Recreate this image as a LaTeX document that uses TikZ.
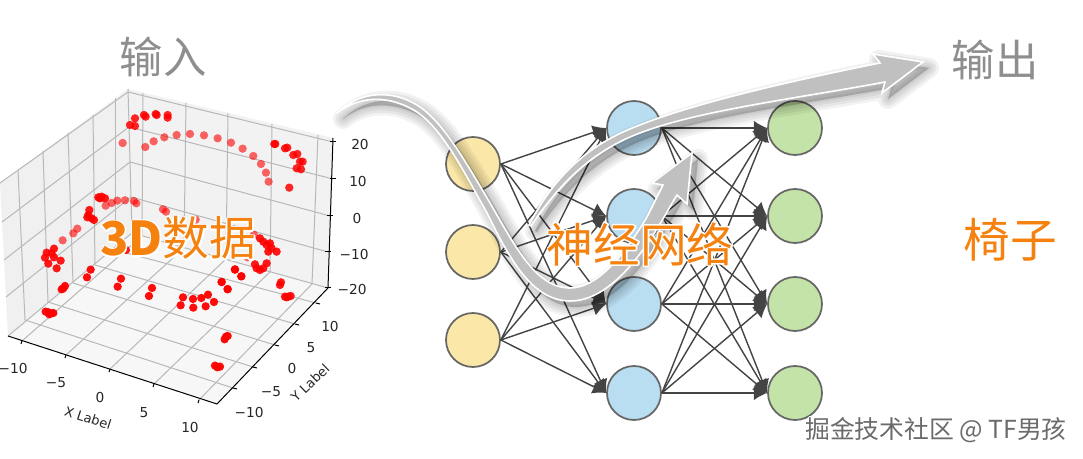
\documentclass[tikz,border=0pt]{standalone}
\usepackage{fontspec}
\setmainfont{DejaVu Sans}
\newfontfamily\cjk{Noto Sans CJK SC}
\usetikzlibrary{arrows.meta}
\definecolor{orangetxt}{HTML}{F5820F}
\definecolor{graytxt}{HTML}{8E8E8E}
\definecolor{gridc}{HTML}{B8B8B8}
\definecolor{yel}{HTML}{FBE7A8}
\definecolor{blu}{HTML}{B9DDF1}
\definecolor{grn}{HTML}{C3E3A8}
\definecolor{ringc}{HTML}{666666}
\definecolor{edgec}{HTML}{444444}
\definecolor{ribbon}{HTML}{C0C0C0}
\newcommand{\halotext}[2]{\rlap{\special{pdf:code 1 Tr 1 1 1 RG #1 w 1 j}#2\special{pdf:code 0 Tr}}#2}
\tikzset{
  x=0.75pt,y=-0.75pt,
  gridline/.style={gridc,line width=0.75pt},
  axisline/.style={black,line width=0.75pt},
  ticklab/.style={font=\fontsize{10.3}{12}\selectfont,inner sep=0pt,text=black!85},
  axlab/.style={font=\fontsize{9.8}{12}\selectfont,inner sep=0pt,text=black!85},
  neuron/.style={circle,draw=ringc,line width=1.3pt,minimum size=40.5pt,inner sep=0pt},
  edge/.style={edgec,line width=1.05pt,-{Latex[length=10pt,width=11pt]}},
  bigtext/.style={font=\cjk\fontsize{35}{40}\selectfont,text=orangetxt,inner sep=0pt},
  graytitle/.style={font=\cjk\fontsize{32.5}{40}\selectfont,text=graytxt,inner sep=0pt},
  arrowA/.style={insert path={(337,113) .. controls (357,93) and (390,87) .. (420,107)
    .. controls (443,123) and (463,157) .. (490,203)
    .. controls (517,250) and (537,288) .. (570,288)
    .. controls (597,288) and (623,257) .. (647,217)
    -- (663,185) -- (652,183) -- (692,153) -- (687,204) -- (677,195)
    .. controls (663,217) and (623,301) .. (570,301)
    .. controls (530,301) and (507,253) .. (487,213)
    .. controls (463,170) and (443,130) .. (417,112)
    .. controls (390,95) and (360,95) .. (337,113) -- cycle}},
  arrowB/.style={insert path={(529,225) .. controls (560,165) and (600,140) .. (640,125)
    .. controls (690,105) and (780,83) .. (880,63)
    -- (873,54) -- (923,62) -- (882,93) -- (885,82)
    .. controls (800,98) and (700,110) .. (640,133)
    .. controls (600,148) and (565,175) .. (531,226) -- cycle}},
  ribbonshape/.style={fill=ribbon,draw=white,line width=1.2pt,line join=miter},
  shadowlayer/.style={fill=black,draw=black,opacity=0.05,line join=round,shift={(6,6)}},
}
\begin{document}
\begin{tikzpicture}
\useasboundingbox (0,0) rectangle (1083,459);
\fill[white] (0,0) rectangle (1083,459);
\begin{scope}
\clip (0,0) rectangle (1083,459);
% panes
\fill[black!6] (128,89) -- (0,183) -- (8,336) -- (132,233) -- cycle;
\fill[black!5] (128,89) -- (333,138) -- (328,288) -- (132,233) -- cycle;
\fill[black!3] (8,336) -- (217,404) -- (328,288) -- (132,233) -- cycle;
% back wall grid
\foreach \a/\b/\c/\d in {128/92/333/142,129/127/333/179,130/162/330/216,131/197/328/252,132/233/328/288}
  \draw[gridline] (\a,\b) -- (\c,\d);
\foreach \a/\b/\c/\d in {143/93/142/236,186/103/184/248,228/113/226/259,272/124/270/272,318/135/312/284}
  \draw[gridline] (\a,\b) -- (\c,\d);
% left wall grid
\foreach \a/\b/\c/\d in {128/92/0/183,129/127/2/222,130/162/4/260,131/197/6/297,132/233/8/336}
  \draw[gridline] (\a,\b) -- (\c,\d);
\foreach \a/\b/\c/\d in {18/170/25/320,43/151/48/302,68/133/73/283,93/115/95/265,115/98/115/250}
  \draw[gridline] (\a,\b) -- (\c,\d);
% floor grid
\foreach \a/\b/\c/\d in {142/236/22/341,184/248/66/355,226/259/110/369,270/272/154/384,312/284/199/400}
  \draw[gridline] (\a,\b) -- (\c,\d);
\foreach \a/\b/\c/\d in {25/320/233/388,48/302/253/367,73/283/275/345,95/265/295/324,115/250/316/303}
  \draw[gridline] (\a,\b) -- (\c,\d);
% pane edges
\draw[gridline] (128,89) -- (132,233);
% data points
\begin{scope}[shift={(0,70)},scale=0.3333]
\foreach \x/\y in {368/219,436/231,461/214,493/202,530/195,570/192,612/196,653/205,693/218,728/236,760/258,783/282,798/308,806/335,317/407,335/399,352/392,375/391,402/393,409/400,489/418,498/425,587/449,232/476,220/490,188/511,762/494,743/562}
  \fill[red,opacity=0.6] (\x,\y) circle[radius=12.5];
\foreach \x/\y in {390/165,405/145,405/168,432/135,437/140,467/132,470/135,503/135,503/143,868/353,823/222,826/222,855/235,862/233,880/255,892/252,900/275,908/275,890/295,903/298}
  \fill[red,opacity=0.85] (\x,\y) circle[radius=12.5];
\foreach \x/\y in {295/382,305/380,315/385,300/385,268/420,265/435,262/442,275/445,282/450,162/536,140/548,155/550,135/563,162/562,182/572,145/581,170/595,780/505,790/515,810/520,800/525,815/535,830/545,805/545,765/583,770/595,780/600,790/595,800/580,705/598,724/619,665/636,683/657,843/637,840/645,855/680,865/680,872/678,860/682,378/540}
  \fill[red,opacity=0.9] (\x,\y) circle[radius=12.5];
\end{scope}
\begin{scope}[shift={(0,250)},scale=0.3333]
\foreach \x/\y in {272/59,261/82,363/86,353/110,456/114,447/138,549/142,542/166,579/147,580/173,604/144,617/169,624/134,642/156,705/59,724/79,665/96,683/118,190/115,195/108,185/118,137/185,145/187,152/190,160/189,148/193,678/260,683/258,674/268,645/347,660/350,652/352}
  \fill[red,opacity=0.95] (\x,\y) circle[radius=12.5];
\end{scope}
% axes
\draw[axisline] (333,138) -- (328,288);
\draw[axisline] (8,336) -- (217,404) -- (328,288);
\foreach \a/\b in {333/142,333/179,330/216,328/252,328/288}
  \draw[axisline] (\a-3,\b) -- (\a+3,\b);
\foreach \a/\b in {22/341,66/355,110/369,154/384,199/400}
  \draw[axisline] (\a,\b) -- (\a-1,\b+3);
\foreach \a/\b in {233/388,253/367,275/345,295/324,316/303}
  \draw[axisline] (\a,\b) -- (\a+4,\b+1);
\end{scope}
% tick labels
\node[ticklab] (xa) at (13,369) {−10};
\node[ticklab] (xb) at (56,383) {−5};
\node[ticklab] (xc) at (100,398) {0};
\node[ticklab] (xd) at (144,413) {5};
\node[ticklab] (xe) at (190,428) {10};
\node[ticklab] (ya) at (249,413) {−10};
\node[ticklab] (yb) at (271,392) {−5};
\node[ticklab] (yc) at (292,369) {0};
\node[ticklab] (yd) at (311,348) {5};
\node[ticklab] (ye) at (330,327) {10};
\node[ticklab] (za) at (360,145) {20};
\node[ticklab] (zb) at (358,182) {10};
\node[ticklab] (zc) at (357,219) {0};
\node[ticklab] (zd) at (354,255) {−10};
\node[ticklab] (ze) at (352,290) {−20};
\node[axlab,rotate=-18] (xlab) at (88,418) {X Label};
\node[axlab,rotate=44] (ylab) at (310,383) {Y Label};
% network
\foreach \n/\y in {1/164,2/252,3/340}
  \node[neuron,fill=yel] (i\n) at (473,\y) {};
\foreach \n/\y in {1/128,2/216,3/304,4/393}
  \node[neuron,fill=blu] (h\n) at (634,\y) {};
\foreach \n/\y in {1/128,2/216,3/304,4/393}
  \node[neuron,fill=grn] (o\n) at (795,\y) {};
\foreach \i in {1,2,3} \foreach \j in {1,2,3,4}
  \draw[edge] (i\i.east) -- (h\j.west);
\foreach \i in {1,2,3,4} \foreach \j in {1,2,3,4}
  \draw[edge] (h\i.east) -- (o\j.west);
% big arrows
\foreach \w in {15,11,7,3} {
  \path[shadowlayer,line width=\w pt,arrowA];
  \path[shadowlayer,line width=\w pt,arrowB];
}
\path[ribbonshape,arrowB];
\path[ribbonshape,arrowA];
% titles
\node[graytitle] (tin) at (163,57) {输入};
\node[graytitle] (tout) at (995,60) {输出};
\node[bigtext] (tdata) at (178,238) {\halotext{2.2}{{\bfseries 3D}数据}};
\node[bigtext] (tnet) at (640,244) {\halotext{2.2}{神经网络}};
\node[bigtext] (tchair) at (1010,240) {\halotext{2.2}{椅子}};
\node[font=\cjk\fontsize{18.6}{20}\selectfont,text=black!58,inner sep=0pt] (wm) at (936,430) {\halotext{2}{掘金技术社区 @ TF男孩}};
\end{tikzpicture}
\end{document}
